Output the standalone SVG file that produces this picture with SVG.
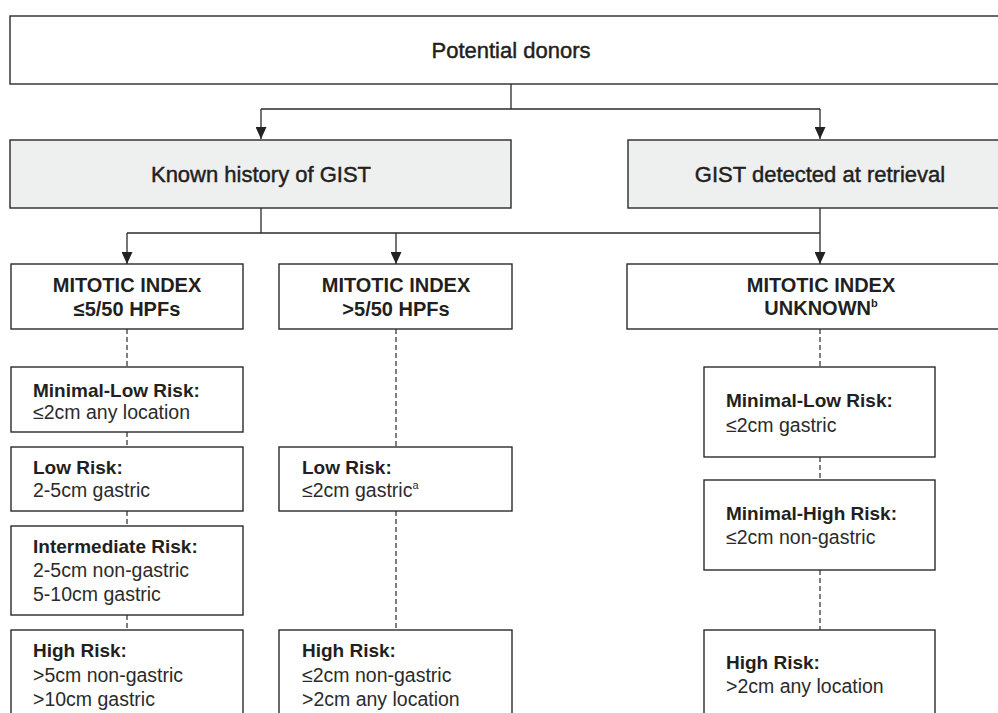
<svg xmlns="http://www.w3.org/2000/svg" width="998" height="713" viewBox="0 0 998 713">
<defs>
<marker id="arr" viewBox="0 0 12 11" refX="12" refY="5.5" markerWidth="12" markerHeight="11" markerUnits="userSpaceOnUse" orient="auto">
<path d="M0,0 L12,5.5 L0,11 Z" fill="#222"/>
</marker>
<style>
.box{fill:#fff;stroke:#2a2a2a;stroke-width:1.4}
.gray{fill:#eeefef;stroke:#2a2a2a;stroke-width:1.4}
.ln{fill:none;stroke:#2a2a2a;stroke-width:1.3}
.dash{fill:none;stroke:#2a2a2a;stroke-width:1.2;stroke-dasharray:5 3}
text{font-family:"Liberation Sans",Arial,Helvetica,sans-serif;fill:#231f20}
.hd{font-size:22px;stroke:#231f20;stroke-width:0.45;text-anchor:middle}
.mi{font-size:20px;font-weight:bold;text-anchor:middle}
.rt{font-size:19px;font-weight:bold}
.bd{font-size:19.5px;fill:#2b2b2b}
.sup{font-size:11px}
</style>
</defs>
<rect width="998" height="713" fill="#fff"/>

<g id="connectors">
<path class="ln" d="M511,84 V109 M261,109 H820"/>
<path class="ln" d="M261,109 V139" marker-end="url(#arr)"/>
<path class="ln" d="M820,109 V139" marker-end="url(#arr)"/>
<path class="ln" d="M261,208 V233 M127,233 H820"/>
<path class="ln" d="M127,233 V264" marker-end="url(#arr)"/>
<path class="ln" d="M396,233 V264" marker-end="url(#arr)"/>
<path class="ln" d="M820,208 V264" marker-end="url(#arr)"/>
<path class="dash" d="M127,329 V367 M127,432 V447 M127,511 V526 M127,615 V630"/>
<path class="dash" d="M396,329 V447 M396,511 V630"/>
<path class="dash" d="M820,329 V367 M820,457 V480 M820,570 V630"/>
</g>

<g id="potential-donors">
<rect class="box" x="10" y="16" width="995" height="68"/>
<text class="hd" x="511" y="58">Potential donors</text>
</g>

<g id="known-history">
<rect class="gray" x="10" y="140" width="501" height="68"/>
<text class="hd" x="261" y="182">Known history of GIST</text>
</g>

<g id="gist-detected">
<rect class="gray" x="628" y="140" width="377" height="68"/>
<text class="hd" x="820" y="182">GIST detected at retrieval</text>
</g>

<g id="mi-low">
<rect class="box" x="11" y="264" width="232" height="65"/>
<text class="mi" x="127" y="292">MITOTIC INDEX</text>
<text class="mi" x="127" y="316">≤5/50 HPFs</text>
</g>

<g id="mi-high">
<rect class="box" x="279" y="264" width="233" height="65"/>
<text class="mi" x="396" y="292">MITOTIC INDEX</text>
<text class="mi" x="396" y="316">&gt;5/50 HPFs</text>
</g>

<g id="mi-unknown">
<rect class="box" x="627" y="264" width="378" height="65"/>
<text class="mi" x="821" y="292">MITOTIC INDEX</text>
<text class="mi" x="821" y="315">UNKNOWN<tspan class="sup" dy="-8">b</tspan></text>
</g>

<g id="l-minimal-low">
<rect class="box" x="11" y="367" width="232" height="65"/>
<text class="rt" x="33" y="397">Minimal-Low Risk:</text>
<text class="bd" x="33" y="419">≤2cm any location</text>
</g>

<g id="l-low">
<rect class="box" x="11" y="447" width="232" height="64"/>
<text class="rt" x="33" y="474">Low Risk:</text>
<text class="bd" x="33" y="497">2-5cm gastric</text>
</g>

<g id="l-intermediate">
<rect class="box" x="11" y="526" width="232" height="89"/>
<text class="rt" x="33" y="553">Intermediate Risk:</text>
<text class="bd" x="33" y="577">2-5cm non-gastric</text>
<text class="bd" x="33" y="601">5-10cm gastric</text>
</g>

<g id="l-high">
<rect class="box" x="11" y="630" width="232" height="100"/>
<text class="rt" x="33" y="657">High Risk:</text>
<text class="bd" x="33" y="682">&gt;5cm non-gastric</text>
<text class="bd" x="33" y="706">&gt;10cm gastric</text>
</g>

<g id="m-low">
<rect class="box" x="279" y="447" width="233" height="64"/>
<text class="rt" x="302" y="474">Low Risk:</text>
<text class="bd" x="302" y="497">≤2cm gastric<tspan class="sup" dy="-8">a</tspan></text>
</g>

<g id="m-high">
<rect class="box" x="279" y="630" width="233" height="100"/>
<text class="rt" x="302" y="657">High Risk:</text>
<text class="bd" x="302" y="682">≤2cm non-gastric</text>
<text class="bd" x="302" y="706">&gt;2cm any location</text>
</g>

<g id="r-minimal-low">
<rect class="box" x="704" y="367" width="231" height="90"/>
<text class="rt" x="726" y="407">Minimal-Low Risk:</text>
<text class="bd" x="726" y="432">≤2cm gastric</text>
</g>

<g id="r-minimal-high">
<rect class="box" x="704" y="480" width="231" height="90"/>
<text class="rt" x="726" y="520">Minimal-High Risk:</text>
<text class="bd" x="726" y="544">≤2cm non-gastric</text>
</g>

<g id="r-high">
<rect class="box" x="704" y="630" width="231" height="100"/>
<text class="rt" x="726" y="669">High Risk:</text>
<text class="bd" x="726" y="693">&gt;2cm any location</text>
</g>
</svg>
